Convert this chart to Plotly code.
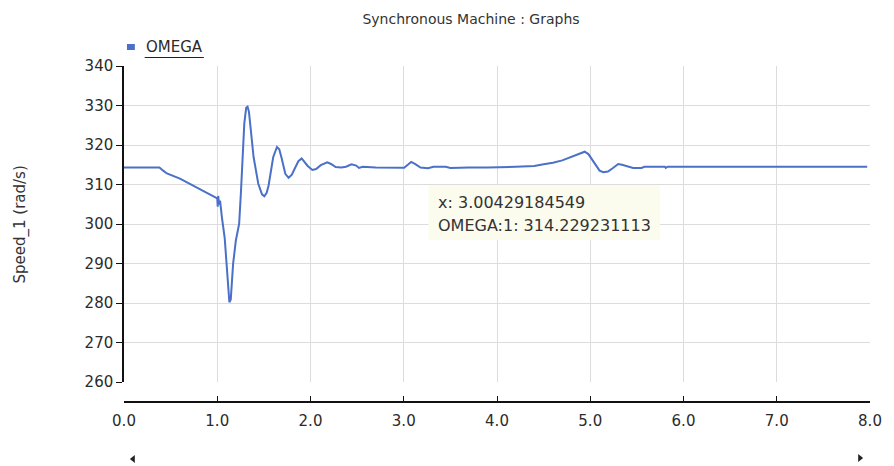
import plotly.graph_objects as go

# Rotor speed of the synchronous machine (time in s, speed in rad/s)
time_s = [
    0.00, 0.38, 0.42, 0.46, 0.60, 0.80, 0.95, 0.98, 1.00, 1.005, 1.01, 1.02,
    1.03, 1.05, 1.07, 1.08, 1.10, 1.12, 1.13, 1.145, 1.155, 1.17, 1.20, 1.235,
    1.255, 1.27, 1.29, 1.31, 1.325, 1.34, 1.355, 1.39, 1.44, 1.48, 1.505, 1.53,
    1.55, 1.60, 1.64, 1.665, 1.69, 1.73, 1.765, 1.80, 1.83, 1.87, 1.905, 1.94,
    1.97, 2.02, 2.06, 2.11, 2.18, 2.22, 2.27, 2.33, 2.38, 2.44, 2.49, 2.52,
    2.56, 2.70, 3.00429184549, 3.05, 3.08, 3.12, 3.18, 3.26, 3.32, 3.45, 3.50,
    3.70, 3.90, 4.20, 4.40, 4.50, 4.60, 4.70, 4.80, 4.88, 4.94, 4.98, 5.02,
    5.06, 5.10, 5.14, 5.19, 5.24, 5.30, 5.34, 5.40, 5.46, 5.55, 5.58, 5.80,
    5.81, 5.83, 6.50, 7.97,
]
omega = [
    314.3, 314.3, 313.5, 312.8, 311.5, 309.1, 307.3, 306.8, 306.5, 304.4, 307.1, 304.9,
    305.9, 301.7, 298.4, 296.4, 289.9, 283.2, 280.2, 280.9, 283.9, 289.9, 295.9, 300.1,
    308.5, 316.9, 325.4, 329.4, 329.7, 328.4, 324.9, 316.9, 310.2, 307.5, 307.0, 307.9,
    309.7, 316.9, 319.5, 318.9, 316.7, 312.7, 311.7, 312.5, 314.0, 315.9, 316.6, 315.7,
    314.7, 313.7, 313.9, 314.9, 315.6, 315.2, 314.4, 314.3, 314.5, 315.1, 314.8, 314.2,
    314.5, 314.3, 314.229231113, 315.1, 315.7, 315.2, 314.3, 314.1, 314.5, 314.5, 314.2,
    314.3, 314.3, 314.5, 314.7, 315.1, 315.5, 316.1, 317.1, 317.9, 318.3, 317.7, 316.2,
    314.7, 313.5, 313.1, 313.3, 314.1, 315.2, 315.0, 314.5, 314.2, 314.2, 314.5, 314.5,
    314.2, 314.5, 314.5, 314.5,
]

x_ticks = [0, 1, 2, 3, 4, 5, 6, 7, 8]
x_tick_labels = ["0.0", "1.0", "2.0", "3.0", "4.0", "5.0", "6.0", "7.0", "8.0"]
y_ticks = [260, 270, 280, 290, 300, 310, 320, 330, 340]

series_name = "OMEGA"
hover_label = ["x: 3.00429184549", "OMEGA:1: 314.229231113"]

LINE_BLUE = "#4a70c8"
GRID = "#dcdcdc"
TEXT = "#2b2b2b"
FONT = "DejaVu Sans"

fig = go.Figure()
fig.add_trace(go.Scatter(
    x=time_s, y=omega, mode="lines", name=series_name,
    line=dict(color=LINE_BLUE, width=2), showlegend=False,
))

fig.update_layout(
    width=894, height=466,
    margin=dict(l=124, r=13, t=66, b=64),
    paper_bgcolor="white", plot_bgcolor="white",
    font=dict(family=FONT, color=TEXT, size=15),
    title=dict(
        text="Synchronous Machine : Graphs",
        x=471 / 894, xanchor="center", y=1 - 19 / 466, yanchor="middle",
        font=dict(family=FONT, size=14, color="#333333"),
    ),
    xaxis=dict(
        range=[0, 8], tickvals=x_ticks, ticktext=x_tick_labels,
        anchor="free", position=0,
        showline=True, linecolor="#111111", linewidth=1.5,
        ticks="inside", ticklen=5, tickcolor="#111111",
        ticklabelstandoff=5,
        showgrid=True, gridcolor=GRID, gridwidth=1, zeroline=False,
        tickfont=dict(size=15, color=TEXT),
    ),
    yaxis=dict(
        range=[260, 340], tickvals=y_ticks, domain=[20 / 336, 1],
        showline=True, linecolor="#111111", linewidth=1.5,
        ticks="outside", ticklen=6, tickcolor="#111111",
        showgrid=True, gridcolor=GRID, gridwidth=1, zeroline=False,
        tickfont=dict(size=15, color=TEXT),
    ),
)

# paper coordinates: x 0..1 -> 124..881 px, y 0..1 -> 402..66 px
def px_x(p):
    return (p - 124) / 757


def px_y(p):
    return (402 - p) / 336


def triangle(tip_x, base_x, mid_y, half_h):
    return (f"M {px_x(tip_x)} {px_y(mid_y)} "
            f"L {px_x(base_x)} {px_y(mid_y - half_h)} "
            f"L {px_x(base_x)} {px_y(mid_y + half_h)} Z")


shapes = [
    # legend swatch and underline
    dict(type="rect", xref="paper", yref="paper",
         x0=px_x(127), x1=px_x(135), y0=px_y(50), y1=px_y(44),
         fillcolor=LINE_BLUE, line=dict(width=0)),
    dict(type="line", xref="paper", yref="paper",
         x0=px_x(145), x1=px_x(205), y0=px_y(57.5), y1=px_y(57.5),
         line=dict(color="#222222", width=1.2)),
    # hover readout box
    dict(type="rect", xref="paper", yref="paper", layer="above",
         x0=px_x(433), x1=px_x(668), y0=px_y(240), y1=px_y(185),
         fillcolor="#fbfbee", line=dict(width=0)),
    # scroll arrows
    dict(type="path", xref="paper", yref="paper",
         path=triangle(130, 135, 459, 4),
         fillcolor="#222222", line=dict(width=0)),
    dict(type="path", xref="paper", yref="paper",
         path=triangle(874, 869, 458, 4),
         fillcolor="#222222", line=dict(width=0)),
]
fig.update_layout(shapes=shapes)

annotations = [
    dict(text=series_name, xref="paper", yref="paper",
         x=px_x(144), y=px_y(47), xanchor="left", yanchor="middle",
         showarrow=False, font=dict(size=15, color=TEXT)),
    dict(text="Speed_1 (rad/s)", xref="paper", yref="paper",
         x=px_x(18), y=px_y(225), xanchor="center", yanchor="middle",
         textangle=-90, showarrow=False, font=dict(size=15, color="#333333")),
    dict(text=hover_label[0], xref="paper", yref="paper",
         x=px_x(441), y=px_y(202), xanchor="left", yanchor="middle",
         showarrow=False, font=dict(size=16, color="#333333")),
    dict(text=hover_label[1], xref="paper", yref="paper",
         x=px_x(441), y=px_y(225), xanchor="left", yanchor="middle",
         showarrow=False, font=dict(size=16, color="#333333")),
]
fig.update_layout(annotations=annotations)

fig.write_html("out.html")
